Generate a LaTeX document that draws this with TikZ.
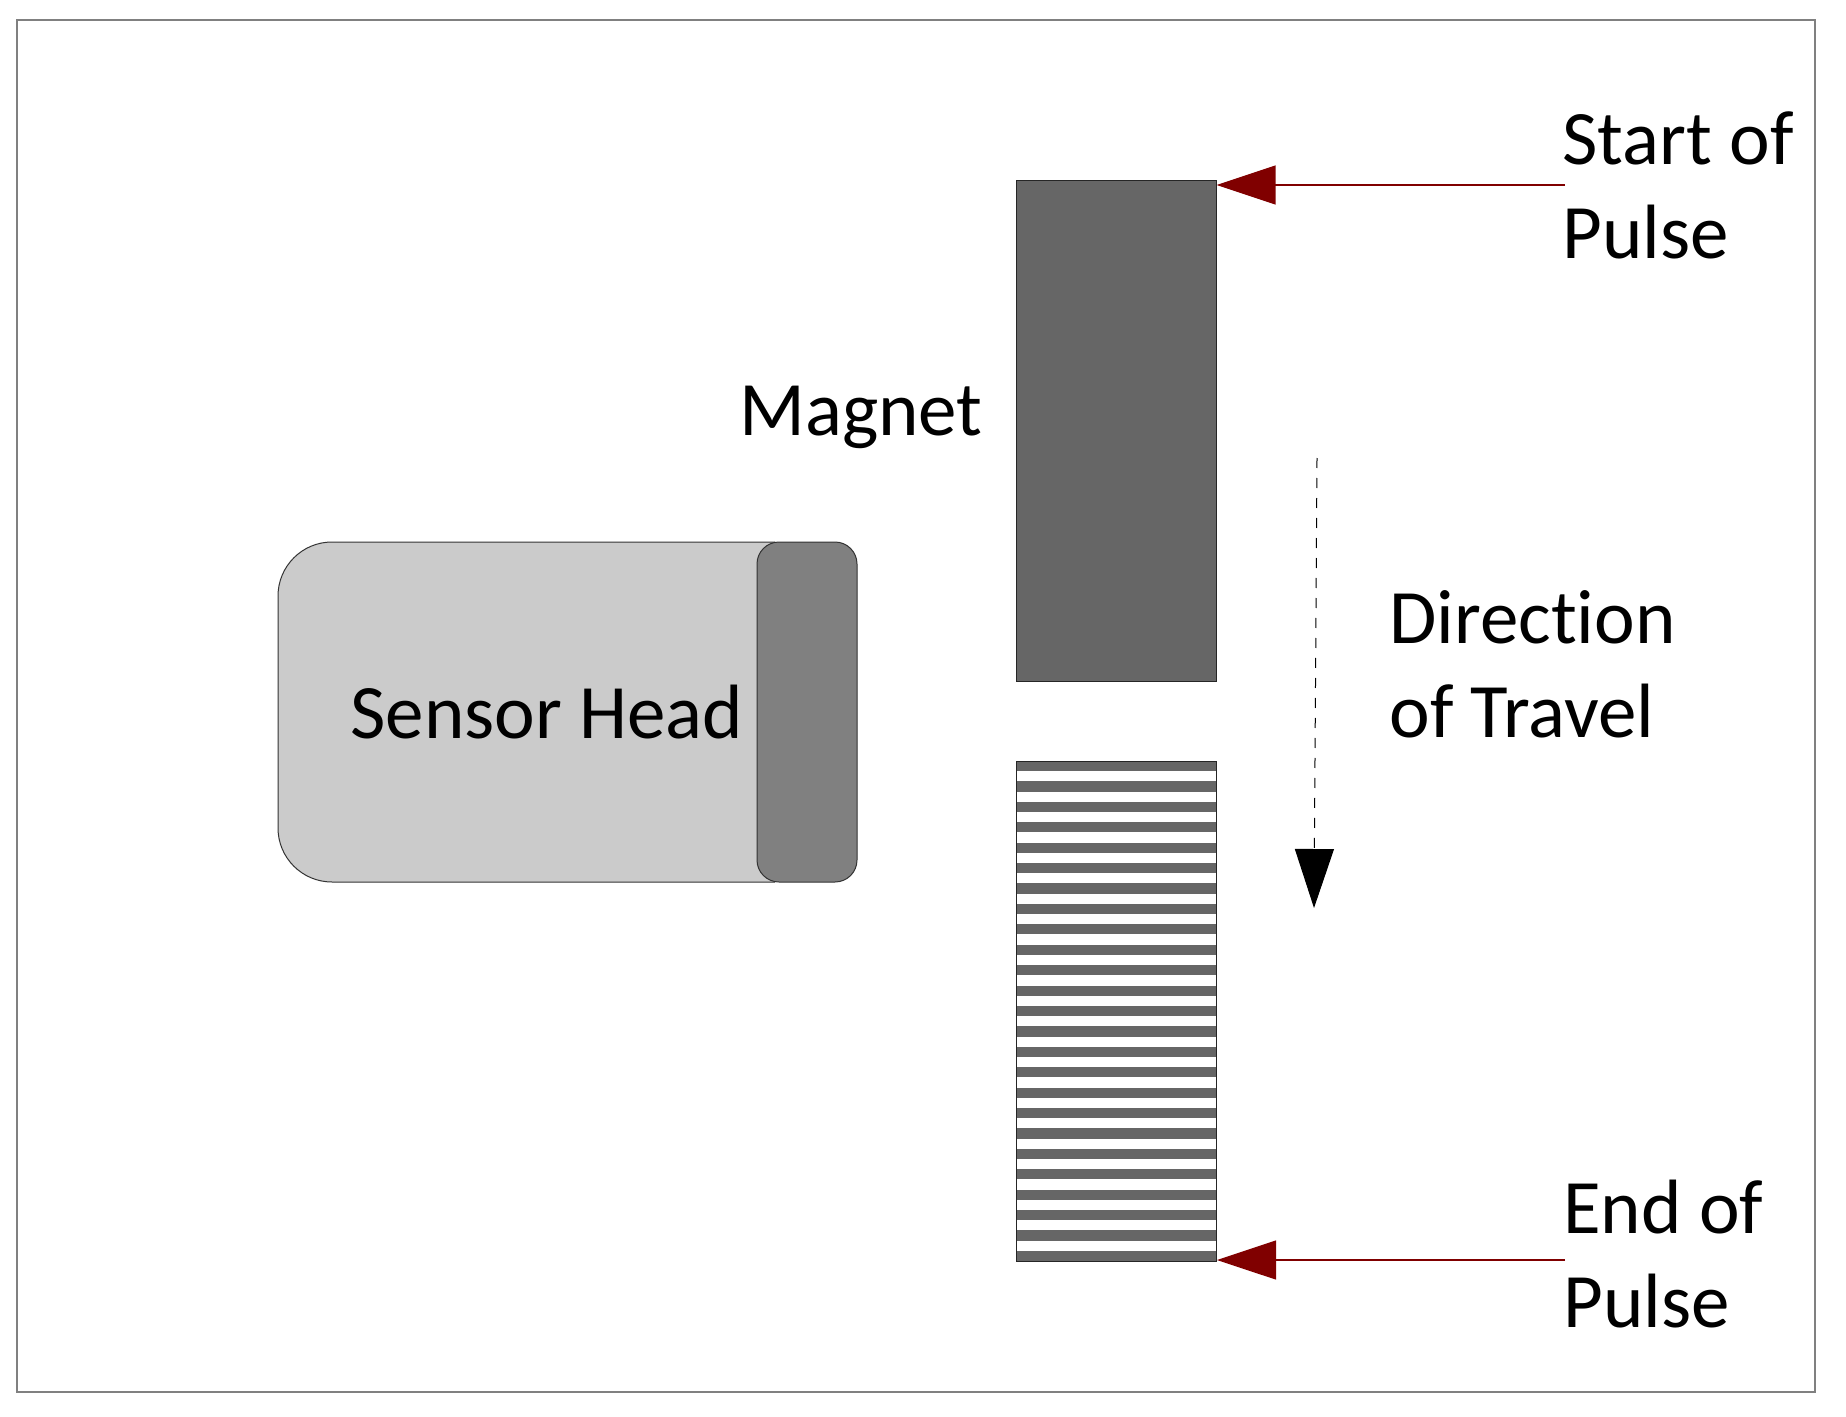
\documentclass[tikz,border=0pt]{standalone}
\usepackage{fontspec}
\setmainfont{Carlito}[Ligatures=NoCommon]
\usetikzlibrary{arrows.meta}

\definecolor{headgray}{HTML}{CBCBCB}
\definecolor{capgray}{HTML}{808080}
\definecolor{magnetgray}{HTML}{666666}
\definecolor{pulsered}{HTML}{800000}

\begin{document}
\begin{tikzpicture}[x=0.5pt,y=-0.5pt,
    label/.style={inner sep=0pt,anchor=base west,align=left,font=\fontsize{38.5}{47}\selectfont},
    bar/.style={draw=black!85,line width=0.5pt,minimum width=100pt,minimum height=250pt,inner sep=0pt},
    pulse/.style={-{Triangle[length=29.5pt,width=19.5pt]},pulsered,line width=0.6pt}]
    \useasboundingbox (0,0) rectangle (1846,1417);
    \draw[capgray,line width=0.6pt] (17,20) rectangle (1815,1392);

    % sensor head
    \filldraw[fill=headgray,draw=black!80,line width=0.5pt,rounded corners=27pt]
        (775,542) -- (278,542) -- (278,882) -- (775,882);
    \filldraw[fill=capgray,draw=black!80,line width=0.5pt,rounded corners=11pt]
        (757,542) rectangle (857,882);
    \node[label] (head) at (350,738) {Sensor Head};

    % magnet and pulse zone
    \node[bar,fill=magnetgray] (magnet) at (1116,431) {};
    \node[label] (magnetlbl) at (739,436) {Magnet};
    \node[bar,fill=white] (stripes) at (1116.5,1011) {};
    \foreach \k in {0,...,24}
        \fill[magnetgray] (1016.5,{761+\k*20.41}) rectangle (1216.5,{771.2+\k*20.41});
    \node[bar] at (stripes) {};

    % pulse markers
    \node[label] (startlbl) at (1562,259) {Start of\\Pulse};
    \node[label] (endlbl) at (1563,1327) {End of\\Pulse};
    \coordinate (startA) at (1565,185);
    \coordinate (endA) at (1565,1260);
    \draw[pulse] (startA) -- (startA -| magnet.east);
    \draw[pulse] (endA) -- (endA -| stripes.east);

    % travel
    \node[label] (travel) at (1389,737) {Direction\\of Travel};
    \coordinate (travtop) at (1317,458);
    \coordinate (travend) at (1314,908);
    \draw[-{Triangle[length=29.5pt,width=19.5pt]},line width=0.5pt,dash pattern=on 5pt off 5pt] (travtop) -- (travend);
\end{tikzpicture}
\end{document}
